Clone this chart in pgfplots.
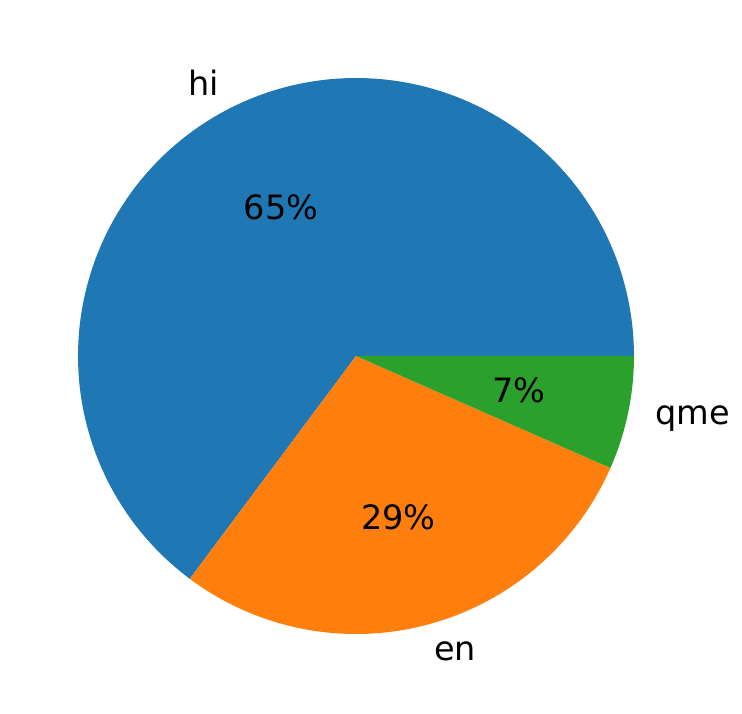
\documentclass[border=0pt]{standalone}
\usepackage{pgfplots}
\pgfplotsset{compat=1.18}
\usepackage{fontspec}
\setmainfont{DejaVu Sans}
\definecolor{cA}{HTML}{1F77B4}
\definecolor{cB}{HTML}{FF7F0E}
\definecolor{cC}{HTML}{2CA02C}
\begin{document}
\begin{tikzpicture}
% shares (percent): hi, en, qme
\def\vA{64.8}\def\vB{28.6}\def\vC{6.6}
\pgfmathsetmacro\aA{3.6*\vA}
\pgfmathsetmacro\aB{\aA+3.6*\vB}
\pgfmathsetmacro\aC{\aB+3.6*\vC}
\pgfmathsetmacro\mA{\aA/2}
\pgfmathsetmacro\mB{(\aA+\aB)/2}
\pgfmathsetmacro\mC{(\aB+\aC)/2}
\def\cx{356}\def\cy{357}\def\R{278}
\begin{axis}[width=742pt,height=713pt,scale only axis,
  xmin=0,xmax=742,ymin=0,ymax=713,hide axis,clip=false]
\path[use as bounding box] (axis cs:0,0) rectangle (axis cs:742,713);
\addplot[fill=cA,draw=none,domain=0:\aA,samples=150,variable=\t]
  ({\cx+\R*cos(t)},{\cy+\R*sin(t)}) -- (axis cs:\cx,\cy) -- cycle;
\addplot[fill=cB,draw=none,domain=\aA:\aB,samples=80,variable=\t]
  ({\cx+\R*cos(t)},{\cy+\R*sin(t)}) -- (axis cs:\cx,\cy) -- cycle;
\addplot[fill=cC,draw=none,domain=\aB:\aC,samples=30,variable=\t]
  ({\cx+\R*cos(t)},{\cy+\R*sin(t)}) -- (axis cs:\cx,\cy) -- cycle;
\begin{scope}[every node/.style={inner sep=0pt,font=\fontsize{33.5}{40}\selectfont}]
\node[anchor=east] at (axis cs:{\cx+1.1*\R*cos(\mA)},{\cy+1.1*\R*sin(\mA)}) {hi};
\node[anchor=west] at (axis cs:{\cx+1.1*\R*cos(\mB)},{\cy+1.1*\R*sin(\mB)}) {en};
\node[anchor=west] at (axis cs:{\cx+1.1*\R*cos(\mC)},{\cy+1.1*\R*sin(\mC)}) {qme};
\node at (axis cs:{\cx+0.6*\R*cos(\mA)},{\cy+0.6*\R*sin(\mA)}) {65\%};
\node at (axis cs:{\cx+0.6*\R*cos(\mB)},{\cy+0.6*\R*sin(\mB)}) {29\%};
\node at (axis cs:{\cx+0.6*\R*cos(\mC)},{\cy+0.6*\R*sin(\mC)}) {7\%};
\end{scope}
\end{axis}
\end{tikzpicture}
\end{document}
